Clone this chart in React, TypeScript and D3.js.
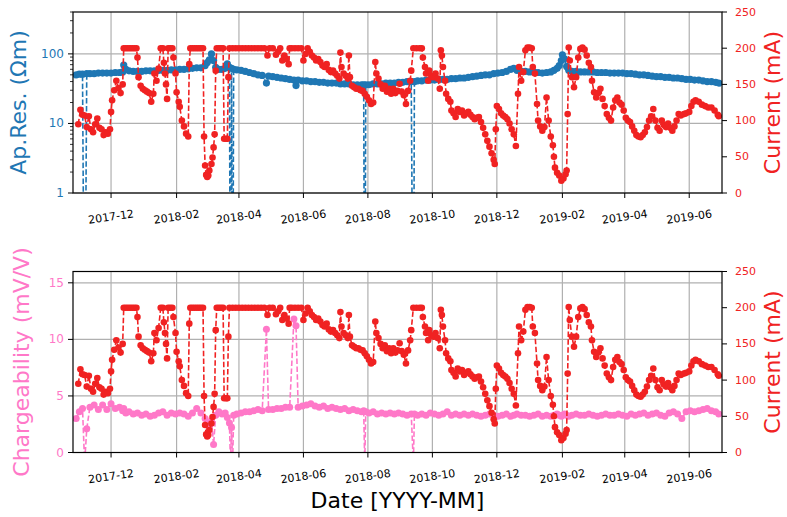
import React from "react";
import * as d3 from "d3";

// ---------- DATA ----------
const measDates = [
  "2017-10-29","2017-11-01","2017-11-04","2017-11-06","2017-11-08","2017-11-11","2017-11-15","2017-11-19","2017-11-23","2017-11-27",
  "2017-12-01","2017-12-05","2017-12-09","2017-12-12","2017-12-13","2017-12-15","2017-12-18","2017-12-22","2017-12-26","2017-12-30",
  "2018-01-03","2018-01-07","2018-01-11","2018-01-15","2018-01-19","2018-01-23","2018-01-27","2018-01-31","2018-02-04","2018-02-08",
  "2018-02-12","2018-02-16","2018-02-20","2018-02-24","2018-02-28","2018-03-02","2018-03-04","2018-03-06","2018-03-08","2018-03-10",
  "2018-03-13","2018-03-16","2018-03-19","2018-03-21","2018-03-23","2018-03-24","2018-03-25","2018-03-26","2018-03-27","2018-03-30",
  "2018-04-03","2018-04-07","2018-04-11","2018-04-15","2018-04-19","2018-04-23","2018-04-27","2018-04-29","2018-05-03","2018-05-07",
  "2018-05-11","2018-05-15","2018-05-19","2018-05-23","2018-05-25","2018-05-27","2018-05-31","2018-06-04","2018-06-08","2018-06-12",
  "2018-06-16","2018-06-20","2018-06-24","2018-06-28","2018-07-02","2018-07-06","2018-07-10","2018-07-14","2018-07-18","2018-07-22",
  "2018-07-26","2018-07-28","2018-07-29","2018-07-30","2018-08-02","2018-08-06","2018-08-10","2018-08-14","2018-08-18","2018-08-22",
  "2018-08-26","2018-08-30","2018-09-03","2018-09-07","2018-09-11","2018-09-13","2018-09-14","2018-09-17","2018-09-21","2018-09-25",
  "2018-09-29","2018-10-03","2018-10-07","2018-10-11","2018-10-15","2018-10-19","2018-10-23","2018-10-27","2018-10-31","2018-11-04",
  "2018-11-08","2018-11-12","2018-11-16","2018-11-20","2018-11-24","2018-11-28","2018-12-02","2018-12-06","2018-12-10","2018-12-14",
  "2018-12-17","2018-12-20","2018-12-24","2018-12-28","2019-01-01","2019-01-05","2019-01-09","2019-01-13","2019-01-17","2019-01-21",
  "2019-01-24","2019-01-27","2019-01-29","2019-01-31","2019-02-01","2019-02-03","2019-02-05","2019-02-07","2019-02-10","2019-02-14",
  "2019-02-18","2019-02-22","2019-02-26","2019-03-02","2019-03-06","2019-03-10","2019-03-14","2019-03-18","2019-03-22","2019-03-26",
  "2019-03-30","2019-04-03","2019-04-07","2019-04-11","2019-04-15","2019-04-19","2019-04-23","2019-04-27","2019-05-01","2019-05-05",
  "2019-05-09","2019-05-13","2019-05-17","2019-05-21","2019-05-25","2019-05-29","2019-06-02","2019-06-06","2019-06-10","2019-06-14",
  "2019-06-18","2019-06-22","2019-06-26","2019-06-29"
];

// apparent resistivity (Ohm m); 0.001 = failed reading (falls off the axis)
const resValues = [
  50,51,51,0.001,52,52,52,53,53,53,
  53,54,54,55,69,60,57,56,56,56,
  57,57,57,58,58,58,59,59,60,60,
  61,62,63,63,68,75,82,100,80,64,
  60,60,62,72,64,0.001,62,0.001,60,59,
  58,56,54,52,50,49,38,48,47,46,
  45,44,43,42,35,42,41,41,40,40,
  39,39,38,38,38,37,37,37,36,36,
  36,36,0.001,36,36,37,37,37,38,38,
  38,39,39,40,40,0.001,40,41,41,42,
  42,42,43,43,43,44,44,45,45,46,
  47,48,49,50,50,52,53,54,56,60,
  62,58,56,56,55,55,54,53,54,55,
  58,62,68,80,97,85,66,58,56,56,
  55,55,55,55,54,54,54,53,53,53,
  53,52,52,51,50,50,49,48,47,47,
  46,46,45,45,44,43,43,42,42,41,
  40,40,39,38
];

// chargeability (mV/V); -1 = failed reading
const chgValues = [
  3.0,3.6,3.9,-1,2.1,4.0,4.2,3.8,4.2,3.8,
  4.3,3.9,4.0,3.7,3.9,3.5,3.6,3.4,3.5,3.3,
  3.4,3.2,3.3,3.5,3.6,3.3,3.5,3.4,3.5,3.4,
  3.2,3.5,3.9,3.5,3.0,2.5,2.1,2.8,0.7,3.3,
  3.6,3.4,3.5,3.1,2.6,-1,2.2,-1,3.3,3.4,
  3.5,3.6,3.6,3.7,3.8,3.7,10.9,3.8,3.8,3.9,
  3.9,4.0,4.0,11.8,11.2,4.0,4.1,4.2,4.3,4.1,
  4.0,4.1,3.9,4.0,3.9,3.8,3.9,3.7,3.8,3.7,
  3.6,3.7,-1,3.6,3.5,3.6,3.4,3.5,3.4,3.5,
  3.4,3.5,3.4,3.3,3.4,-1,3.4,3.3,3.4,3.3,
  3.5,3.4,3.3,3.4,3.6,3.3,3.4,3.3,3.4,3.3,
  3.4,3.3,3.2,3.3,3.4,3.3,3.2,3.3,3.4,3.2,
  3.3,3.4,3.3,3.3,3.2,3.3,3.4,3.2,3.3,3.2,
  3.3,3.4,3.3,3.2,3.3,3.4,3.3,3.2,3.3,3.4,
  3.3,3.3,3.4,3.3,3.2,3.3,3.4,3.3,3.3,3.4,
  3.3,3.2,3.4,3.3,3.4,3.5,3.3,3.4,3.5,3.3,
  3.2,3.5,3.6,3.4,3.0,3.6,3.7,3.6,3.7,3.8,
  3.9,3.7,3.6,3.4
];

const curDates = [
  "2017-10-31","2017-11-02","2017-11-04","2017-11-06","2017-11-08","2017-11-10","2017-11-12","2017-11-14","2017-11-16","2017-11-18",
  "2017-11-20","2017-11-22","2017-11-24","2017-11-26","2017-11-28","2017-11-30","2017-12-01","2017-12-02","2017-12-04","2017-12-06",
  "2017-12-08","2017-12-10","2017-12-12","2017-12-13","2017-12-15","2017-12-17","2017-12-19","2017-12-21","2017-12-23","2017-12-25",
  "2017-12-26","2017-12-27","2017-12-29","2017-12-31","2018-01-02","2018-01-04","2018-01-06","2018-01-08","2018-01-10","2018-01-11",
  "2018-01-13","2018-01-15","2018-01-17","2018-01-19","2018-01-20","2018-01-21","2018-01-22","2018-01-23","2018-01-24","2018-01-26",
  "2018-01-28","2018-01-29","2018-01-31","2018-02-01","2018-02-03","2018-02-04","2018-02-06","2018-02-08","2018-02-10","2018-02-12",
  "2018-02-13","2018-02-14","2018-02-16","2018-02-18","2018-02-20","2018-02-22","2018-02-24","2018-02-26","2018-02-27","2018-02-28",
  "2018-03-01","2018-03-02","2018-03-03","2018-03-04","2018-03-06","2018-03-07","2018-03-08","2018-03-09","2018-03-10","2018-03-11",
  "2018-03-13","2018-03-15","2018-03-17","2018-03-18","2018-03-20","2018-03-21","2018-03-22","2018-03-23","2018-03-26","2018-03-29",
  "2018-04-01","2018-04-04","2018-04-07","2018-04-10","2018-04-13","2018-04-16","2018-04-19","2018-04-22","2018-04-25","2018-04-28",
  "2018-04-30","2018-05-03","2018-05-06","2018-05-08","2018-05-10","2018-05-12","2018-05-14","2018-05-16","2018-05-18","2018-05-19",
  "2018-05-21","2018-05-24","2018-05-27","2018-05-30","2018-06-01","2018-06-03","2018-06-05","2018-06-07","2018-06-09","2018-06-11",
  "2018-06-13","2018-06-15","2018-06-17","2018-06-19","2018-06-21","2018-06-23","2018-06-25","2018-06-27","2018-06-29","2018-07-01",
  "2018-07-03","2018-07-05","2018-07-06","2018-07-07","2018-07-09","2018-07-11","2018-07-13","2018-07-14","2018-07-15","2018-07-17",
  "2018-07-19","2018-07-21","2018-07-23","2018-07-25","2018-07-27","2018-07-29","2018-07-31","2018-08-02","2018-08-04","2018-08-06",
  "2018-08-08","2018-08-09","2018-08-11","2018-08-13","2018-08-15","2018-08-17","2018-08-19","2018-08-21","2018-08-23","2018-08-25",
  "2018-08-27","2018-08-29","2018-08-31","2018-09-02","2018-09-04","2018-09-06","2018-09-08","2018-09-10","2018-09-11","2018-09-13",
  "2018-09-16","2018-09-19","2018-09-21","2018-09-22","2018-09-24","2018-09-25","2018-09-27","2018-09-28","2018-09-30","2018-10-02",
  "2018-10-04","2018-10-06","2018-10-08","2018-10-09","2018-10-10","2018-10-11","2018-10-13","2018-10-14","2018-10-16","2018-10-18",
  "2018-10-19","2018-10-21","2018-10-23","2018-10-25","2018-10-27","2018-10-29","2018-10-31","2018-11-02","2018-11-04","2018-11-06",
  "2018-11-08","2018-11-10","2018-11-12","2018-11-14","2018-11-16","2018-11-18","2018-11-20","2018-11-22","2018-11-24","2018-11-26",
  "2018-11-28","2018-11-29","2018-11-30","2018-12-01","2018-12-03","2018-12-05","2018-12-07","2018-12-09","2018-12-11","2018-12-13",
  "2018-12-15","2018-12-17","2018-12-19","2018-12-21","2018-12-22","2018-12-24","2018-12-26","2018-12-28","2018-12-30","2019-01-01",
  "2019-01-03","2019-01-04","2019-01-06","2019-01-08","2019-01-09","2019-01-11","2019-01-13","2019-01-15","2019-01-17","2019-01-19",
  "2019-01-21","2019-01-23","2019-01-24","2019-01-25","2019-01-27","2019-01-29","2019-01-31","2019-02-02","2019-02-04","2019-02-05",
  "2019-02-06","2019-02-07","2019-02-08","2019-02-10","2019-02-12","2019-02-14","2019-02-16","2019-02-18","2019-02-20","2019-02-22",
  "2019-02-24","2019-02-26","2019-02-28","2019-03-01","2019-03-03","2019-03-05","2019-03-07","2019-03-09","2019-03-11","2019-03-13",
  "2019-03-15","2019-03-17","2019-03-19","2019-03-21","2019-03-23","2019-03-25","2019-03-27","2019-03-29","2019-03-31","2019-04-02",
  "2019-04-04","2019-04-06","2019-04-08","2019-04-10","2019-04-12","2019-04-14","2019-04-16","2019-04-18","2019-04-20","2019-04-22",
  "2019-04-24","2019-04-26","2019-04-28","2019-04-30","2019-05-02","2019-05-04","2019-05-06","2019-05-08","2019-05-10","2019-05-12",
  "2019-05-14","2019-05-16","2019-05-18","2019-05-20","2019-05-22","2019-05-24","2019-05-27","2019-05-29","2019-06-01","2019-06-03",
  "2019-06-05","2019-06-07","2019-06-10","2019-06-13","2019-06-16","2019-06-19","2019-06-22","2019-06-25","2019-06-28","2019-06-29"
];

// injected current (mA)
const curValues = [
  95,115,108,107,91,106,88,84,95,103,
  90,88,80,84,82,88,112,128,142,155,
  145,138,150,200,200,200,200,200,200,200,
  187,160,148,144,142,140,138,126,137,165,
  155,172,200,200,180,165,150,130,200,200,
  200,187,165,139,126,119,100,92,82,78,
  178,200,200,200,200,200,200,200,78,38,
  25,22,24,31,40,49,63,81,169,200,
  200,200,200,75,75,75,160,200,200,200,
  200,200,200,200,200,200,200,200,200,190,
  200,200,191,195,200,183,190,185,178,200,
  200,200,200,200,183,192,200,195,190,187,
  183,185,181,176,174,178,170,167,169,165,
  162,158,194,174,165,162,158,190,160,148,
  146,144,144,142,141,137,133,128,123,125,
  181,165,158,150,144,148,140,144,137,144,
  138,141,151,140,135,123,141,155,169,200,
  200,200,200,187,174,165,155,169,162,160,
  165,158,144,197,190,174,155,137,130,126,
  114,110,105,116,112,114,107,110,112,108,
  105,102,104,105,98,90,81,72,64,55,
  46,40,88,120,116,110,107,105,102,96,
  88,81,65,137,174,155,167,197,201,201,
  200,174,165,123,100,92,86,91,132,100,
  78,66,50,35,28,24,17,20,26,31,
  109,201,183,160,146,160,187,199,201,198,
  190,180,174,155,139,132,138,144,130,120,
  109,104,100,118,128,132,125,122,114,104,
  100,98,92,86,80,78,77,80,84,91,
  100,106,116,100,90,86,100,94,91,96,
  90,86,92,100,109,107,109,110,112,120,
  126,128,126,122,120,118,118,114,108,106
];

const xTickDates = ["2017-12-01","2018-02-01","2018-04-01","2018-06-01","2018-08-01","2018-10-01","2018-12-01","2019-02-01","2019-04-01","2019-06-01"];
const xTickLabels = ["2017-12","2018-02","2018-04","2018-06","2018-08","2018-10","2018-12","2019-02","2019-04","2019-06"];
const resMajorTicks = [1, 10, 100];
const resMinorTicks = [2,3,4,5,6,7,8,9,20,30,40,50,60,70,80,90,200,300,400];
const curTicks = [0, 50, 100, 150, 200, 250];
const chgTicks = [0, 5, 10, 15];

// ---------- STYLE ----------
const W = 787, H = 517;
const LEFT = 73, RIGHT = 722;
const TOP1 = 12, BOT1 = 193;
const TOP2 = 271.5, BOT2 = 452.5;
const BLUE = "#1f77b4";
const RED = "#f02222";
const PINK = "#ff78c8";
const FONT = "DejaVu Sans, Verdana, sans-serif";
const GRID = "#b0b0b0";

const parse = d3.utcParse("%Y-%m-%d");

function Series({ dates, values, x, y, color, clip, r }: any) {
  const pts: [number, number][] = dates.map((d: string, i: number) => [x(parse(d)), y(values[i])]);
  const path = d3.line()(pts) || "";
  return (
    <g clipPath={`url(#${clip})`}>
      <path d={path} fill="none" stroke={color} strokeWidth={1.6} strokeDasharray="5.5 2.4" />
      {pts.map(([px, py], i) => (
        <circle key={i} cx={px} cy={py} r={r} fill={color} />
      ))}
    </g>
  );
}

export default function App() {
  const x = d3.scaleUtc().domain([parse("2017-10-26")!, parse("2019-07-02")!]).range([LEFT, RIGHT]);
  const yRes = d3.scaleLog().domain([1, 400]).range([BOT1, TOP1]);
  const yCur1 = d3.scaleLinear().domain([0, 250]).range([BOT1, TOP1]);
  const yChg = d3.scaleLinear().domain([0, 16]).range([BOT2, TOP2]);
  const yCur2 = d3.scaleLinear().domain([0, 250]).range([BOT2, TOP2]);

  const xTicks = xTickDates.map((d) => x(parse(d)!));

  const xAxis = (bot: number) => (
    <g>
      {xTicks.map((tx, i) => (
        <g key={i}>
          <line x1={tx} x2={tx} y1={bot} y2={bot + 5} stroke="#000" strokeWidth={1} />
          <text
            x={tx}
            y={bot + 24}
            textAnchor="middle"
            dominantBaseline="central"
            fontSize={11}
            fontFamily={FONT}
            fill="#000"
            transform={`rotate(-8 ${tx} ${bot + 24})`}
          >
            {xTickLabels[i]}
          </text>
        </g>
      ))}
    </g>
  );

  const vGrid = (bot: number, top: number) =>
    xTicks.map((tx, i) => <line key={i} x1={tx} x2={tx} y1={top} y2={bot} stroke={GRID} strokeWidth={1.2} />);

  const rightAxis = (ys: any) =>
    curTicks.map((t, i) => (
      <g key={i}>
        <line x1={RIGHT} x2={RIGHT + 5} y1={ys(t)} y2={ys(t)} stroke="#000" strokeWidth={1} />
        <text x={RIGHT + 13} y={ys(t)} dominantBaseline="central" fontSize={11} fontFamily={FONT} fill={RED}>
          {t}
        </text>
      </g>
    ));

  return (
    <svg width={W} height={H} style={{ position: "absolute", left: 0, top: 0, background: "#fff" }}>
      <defs>
        <clipPath id="clip1">
          <rect x={LEFT} y={TOP1} width={RIGHT - LEFT} height={BOT1 - TOP1} />
        </clipPath>
        <clipPath id="clip2">
          <rect x={LEFT} y={TOP2} width={RIGHT - LEFT} height={BOT2 - TOP2} />
        </clipPath>
      </defs>
      <rect x={0} y={0} width={W} height={H} fill="#fff" />

      {/* ---------- TOP PANEL ---------- */}
      <g>
        {vGrid(BOT1, TOP1)}
        {resMajorTicks.map((t, i) => (
          <line key={i} x1={LEFT} x2={RIGHT} y1={yRes(t)} y2={yRes(t)} stroke={GRID} strokeWidth={1.2} />
        ))}
        <Series dates={measDates} values={resValues} x={x} y={yRes} color={BLUE} clip="clip1" r={3.6} />
        <Series dates={curDates} values={curValues} x={x} y={yCur1} color={RED} clip="clip1" r={3.3} />
        <rect x={LEFT} y={TOP1} width={RIGHT - LEFT} height={BOT1 - TOP1} fill="none" stroke="#000" strokeWidth={1.2} />
        {resMajorTicks.map((t, i) => (
          <g key={i}>
            <line x1={LEFT - 5} x2={LEFT} y1={yRes(t)} y2={yRes(t)} stroke="#000" strokeWidth={1} />
            <text x={LEFT - 9} y={yRes(t)} textAnchor="end" dominantBaseline="central" fontSize={12} fontFamily={FONT} fill={BLUE}>
              {t}
            </text>
          </g>
        ))}
        {resMinorTicks.map((t, i) => (
          <line key={i} x1={LEFT - 3} x2={LEFT} y1={yRes(t)} y2={yRes(t)} stroke="#000" strokeWidth={0.8} />
        ))}
        {rightAxis(yCur1)}
        {xAxis(BOT1)}
        <text
          transform={`translate(26 ${(TOP1 + BOT1) / 2}) rotate(-90)`}
          textAnchor="middle"
          fontSize={22}
          fontFamily={FONT}
          fill={BLUE}
        >
          Ap.Res. (Ωm)
        </text>
        <text
          transform={`translate(780 ${(TOP1 + BOT1) / 2}) rotate(-90)`}
          textAnchor="middle"
          fontSize={22}
          fontFamily={FONT}
          fill={RED}
        >
          Current (mA)
        </text>
      </g>

      {/* ---------- BOTTOM PANEL ---------- */}
      <g>
        {vGrid(BOT2, TOP2)}
        {chgTicks.map((t, i) => (
          <line key={i} x1={LEFT} x2={RIGHT} y1={yChg(t)} y2={yChg(t)} stroke={GRID} strokeWidth={1.2} />
        ))}
        <Series dates={measDates} values={chgValues} x={x} y={yChg} color={PINK} clip="clip2" r={3.5} />
        <Series dates={curDates} values={curValues} x={x} y={yCur2} color={RED} clip="clip2" r={3.3} />
        <rect x={LEFT} y={TOP2} width={RIGHT - LEFT} height={BOT2 - TOP2} fill="none" stroke="#000" strokeWidth={1.2} />
        {chgTicks.map((t, i) => (
          <g key={i}>
            <line x1={LEFT - 5} x2={LEFT} y1={yChg(t)} y2={yChg(t)} stroke="#000" strokeWidth={1} />
            <text x={LEFT - 9} y={yChg(t)} textAnchor="end" dominantBaseline="central" fontSize={12} fontFamily={FONT} fill={PINK}>
              {t}
            </text>
          </g>
        ))}
        {rightAxis(yCur2)}
        {xAxis(BOT2)}
        <text
          transform={`translate(29 ${(TOP2 + BOT2) / 2}) rotate(-90)`}
          textAnchor="middle"
          fontSize={22}
          fontFamily={FONT}
          fill={PINK}
        >
          Chargeability (mV/V)
        </text>
        <text
          transform={`translate(780 ${(TOP2 + BOT2) / 2}) rotate(-90)`}
          textAnchor="middle"
          fontSize={22}
          fontFamily={FONT}
          fill={RED}
        >
          Current (mA)
        </text>
        <text x={(LEFT + RIGHT) / 2} y={508} textAnchor="middle" fontSize={22} fontFamily={FONT} fill="#000">
          Date [YYYY-MM]
        </text>
      </g>
    </svg>
  );
}
